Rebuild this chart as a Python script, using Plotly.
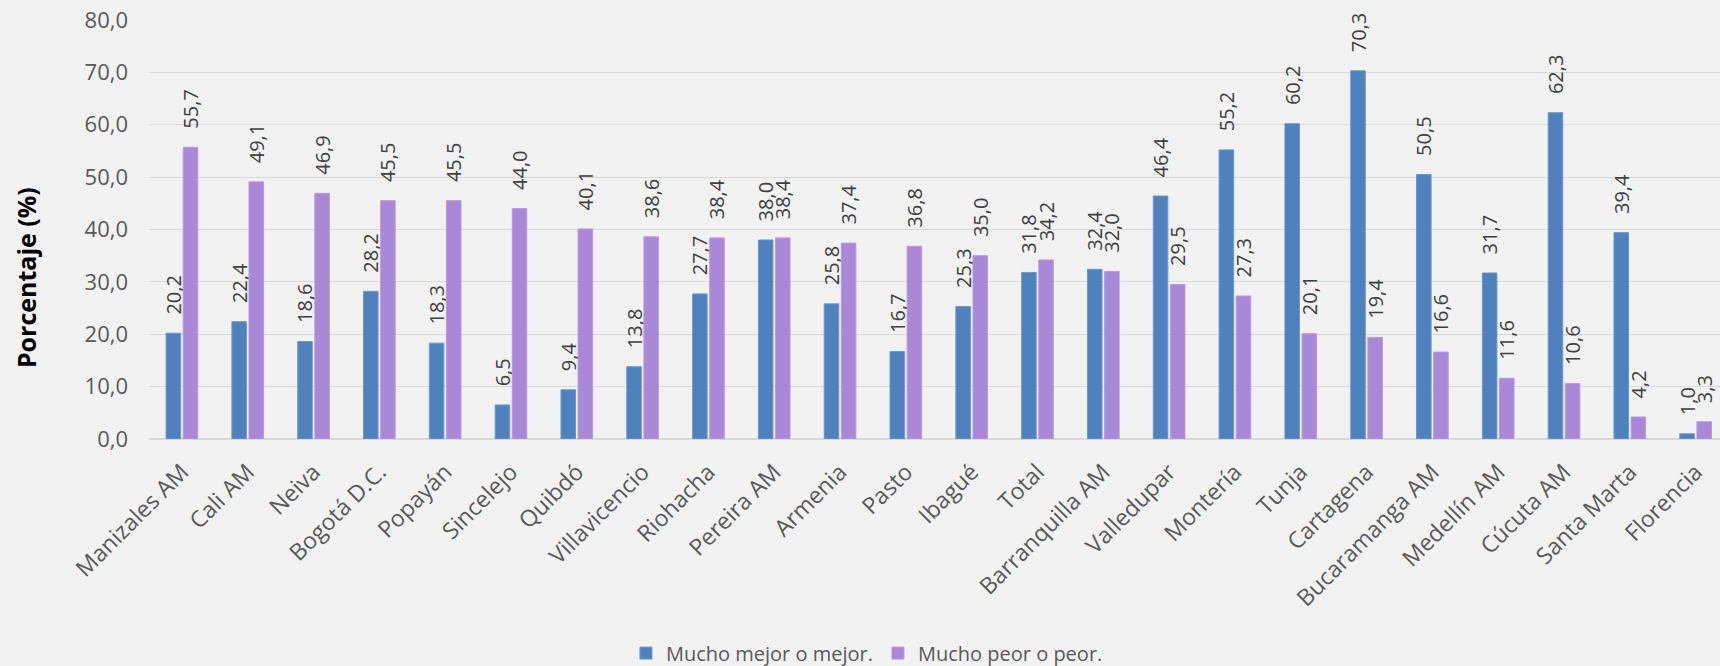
import plotly.graph_objects as go

categories = ["Manizales AM", "Cali AM", "Neiva", "Bogotá D.C.", "Popayán", "Sincelejo",
              "Quibdó", "Villavicencio", "Riohacha", "Pereira AM", "Armenia", "Pasto",
              "Ibagué", "Total", "Barranquilla AM", "Valledupar", "Montería", "Tunja",
              "Cartagena", "Bucaramanga AM", "Medellín AM", "Cúcuta AM", "Santa Marta", "Florencia"]
mejor = [20.2, 22.4, 18.6, 28.2, 18.3, 6.5, 9.4, 13.8, 27.7, 38.0, 25.8, 16.7,
         25.3, 31.8, 32.4, 46.4, 55.2, 60.2, 70.3, 50.5, 31.7, 62.3, 39.4, 1.0]
peor = [55.7, 49.1, 46.9, 45.5, 45.5, 44.0, 40.1, 38.6, 38.4, 38.4, 37.4, 36.8,
        35.0, 34.2, 32.0, 29.5, 27.3, 20.1, 19.4, 16.6, 11.6, 10.6, 4.2, 3.3]
series_names = ["Mucho mejor o mejor.", "Mucho peor o peor."]
y_title = "Porcentaje (%)"

BLUE = "#4f81bd"
PURPLE = "#a988d8"
FONT = "Open Sans"
GREY = "#595959"
PAD = "\u00a0\u00a0\u00a0"  # leading gap between bar end and its rotated label


def fmt(v):
    return PAD + f"{v:.1f}".replace(".", ",")


label_font = dict(family=FONT, size=20, color="#404040")

fig = go.Figure()
fig.add_trace(go.Bar(x=categories, y=mejor, name=series_names[0],
                     text=[fmt(v) for v in mejor], textposition="outside", textangle=-90,
                     constraintext="none", cliponaxis=False, textfont=label_font,
                     marker=dict(color=BLUE, line=dict(color="#6d97cc", width=1))))
fig.add_trace(go.Bar(x=categories, y=peor, name=series_names[1],
                     text=[fmt(v) for v in peor], textposition="outside", textangle=-90,
                     constraintext="none", cliponaxis=False, textfont=label_font,
                     marker=dict(color=PURPLE, line=dict(color="#b79ae0", width=1))))

annotations = [dict(x=0, xref="paper", y=0.384, yref="paper", xshift=-123,
                    text=f"<b>{y_title}</b>", textangle=-90, showarrow=False,
                    xanchor="center", yanchor="middle",
                    font=dict(family=FONT, size=25, color="#000000"))]

fig.update_layout(
    width=1720, height=666,
    paper_bgcolor="#f2f2f2", plot_bgcolor="#f2f2f2",
    margin=dict(l=149, r=0, t=20, b=227, autoexpand=False),
    barmode="group", bargap=0.48, bargroupgap=0.15,
    separators=",.",
    font=dict(family=FONT, color=GREY),
    annotations=annotations,
    showlegend=True,
    legend=dict(orientation="h", x=0.457, xanchor="center", y=-0.511, yanchor="middle",
                font=dict(family=FONT, size=20, color=GREY), bgcolor="rgba(0,0,0,0)"),
    xaxis=dict(range=[-0.5, 23.37], tickangle=-45, tickfont=dict(family=FONT, size=23, color=GREY),
               showgrid=False, showline=False, ticks="", ticklabelstandoff=14),
    yaxis=dict(range=[0, 80], dtick=10, tickformat=".1f",
               tickfont=dict(family=FONT, size=22, color=GREY),
               gridcolor="#d9d9d9", gridwidth=1.3, zeroline=True, zerolinecolor="#d9d9d9",
               zerolinewidth=1.5, showline=False, ticks="", ticklabelstandoff=20),
)

fig.write_html("out.html", config={"displayModeBar": False},
               post_script="document.body.style.margin='0';document.body.style.overflow='hidden';")
